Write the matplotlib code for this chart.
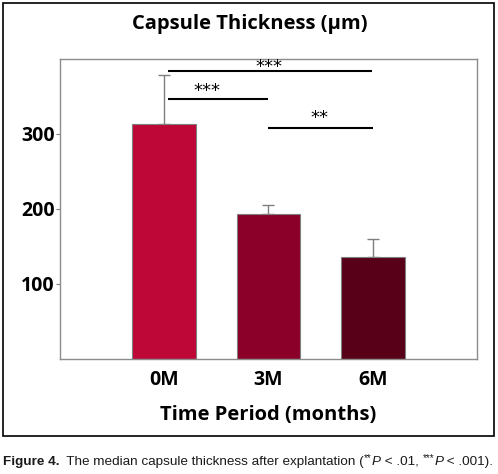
import matplotlib
matplotlib.use("Agg")
import matplotlib.pyplot as plt
from matplotlib.patches import Rectangle

# data
periods = ["0M", "3M", "6M"]
thickness = [313, 193, 136]
err_up = [66, 12, 24]
bar_colors = ["#BE0637", "#8A0028", "#590019"]

# significance brackets: (x start, x end, line y, label, label x, label baseline y)
sig_lines = [
    (1.04, 2.99, 384, "***", 2.0, 383),
    (1.04, 2.0, 346, "***", 1.41, 351),
    (2.0, 3.0, 308, "**", 2.49, 315),
]

plt.rcParams["font.family"] = ["Open Sans", "DejaVu Sans"]

fig = plt.figure(figsize=(4.98, 4.74), dpi=100)
ax = fig.add_axes([0.1205, 0.2426, 0.8373, 0.633])

x = [1, 2, 3]
ax.bar(x, thickness, width=0.61, color=bar_colors, edgecolor="#7f7f7f",
       linewidth=0.8, zorder=2)
ax.errorbar(x, thickness, yerr=[[0, 0, 0], err_up], fmt="none",
            ecolor="#7f7f7f", elinewidth=1, capsize=4, capthick=1, zorder=1)

for x0, x1, y, lab, xt, yt in sig_lines:
    ax.plot([x0, x1], [y, y], color="black", lw=1.5, solid_capstyle="butt")
    ax.text(xt, yt, lab, ha="center", va="baseline", fontsize=13,
            family=["DejaVu Sans"])

ax.set_xlim(0, 4)
ax.set_ylim(0, 400)
ax.set_xticks(x)
ax.set_xticklabels(periods, fontsize=14, fontweight="bold")
ax.set_yticks([100, 200, 300])
ax.set_yticklabels(["100", "200", "300"], fontsize=14, fontweight="bold")
ax.tick_params(axis="x", length=0, pad=8)
ax.tick_params(axis="y", length=3, width=0.8, color="#7f7f7f", pad=1)
for s in ax.spines.values():
    s.set_color("#8c8c8c")
    s.set_linewidth(1)

fig.text(0.502, 0.949, "Capsule Thickness (µm)", ha="center", va="center",
         fontsize=14.5, fontweight="bold")
ax.set_xlabel("Time Period (months)", fontsize=14.5, fontweight="bold",
              labelpad=11)

# frame around the chart
fig.add_artist(Rectangle((0.006, 0.080), 0.986, 0.914, transform=fig.transFigure,
                         fill=False, edgecolor="black", linewidth=1.2))

# caption, built piece by piece
cap_font = "Liberation Sans"
cap_color = "#1a1a1a"
first = fig.text(0.006, 0.019, "Figure 4.", fontweight="bold", va="baseline",
                 fontsize=9.7, family=cap_font, color=cap_color)
pieces = [
    ("  The median capsule thickness after explantation (", "normal", False),
    ("**", "normal", True),
    ("P", "italic", False),
    (" < .01, ", "normal", False),
    ("***", "normal", True),
    ("P", "italic", False),
    (" < .001).", "normal", False),
]
prev = first
for txt, style, sup in pieces:
    ypos = 0.42 if sup else 0
    size = 7 if sup else 9.7
    prev = fig.add_artist(plt.Annotation(
        txt, xy=(1, ypos), xycoords=(prev, first), va="bottom", ha="left",
        fontstyle=style, fontsize=size, family=cap_font, color=cap_color,
        annotation_clip=False))

fig.savefig("out.png", dpi=100)
